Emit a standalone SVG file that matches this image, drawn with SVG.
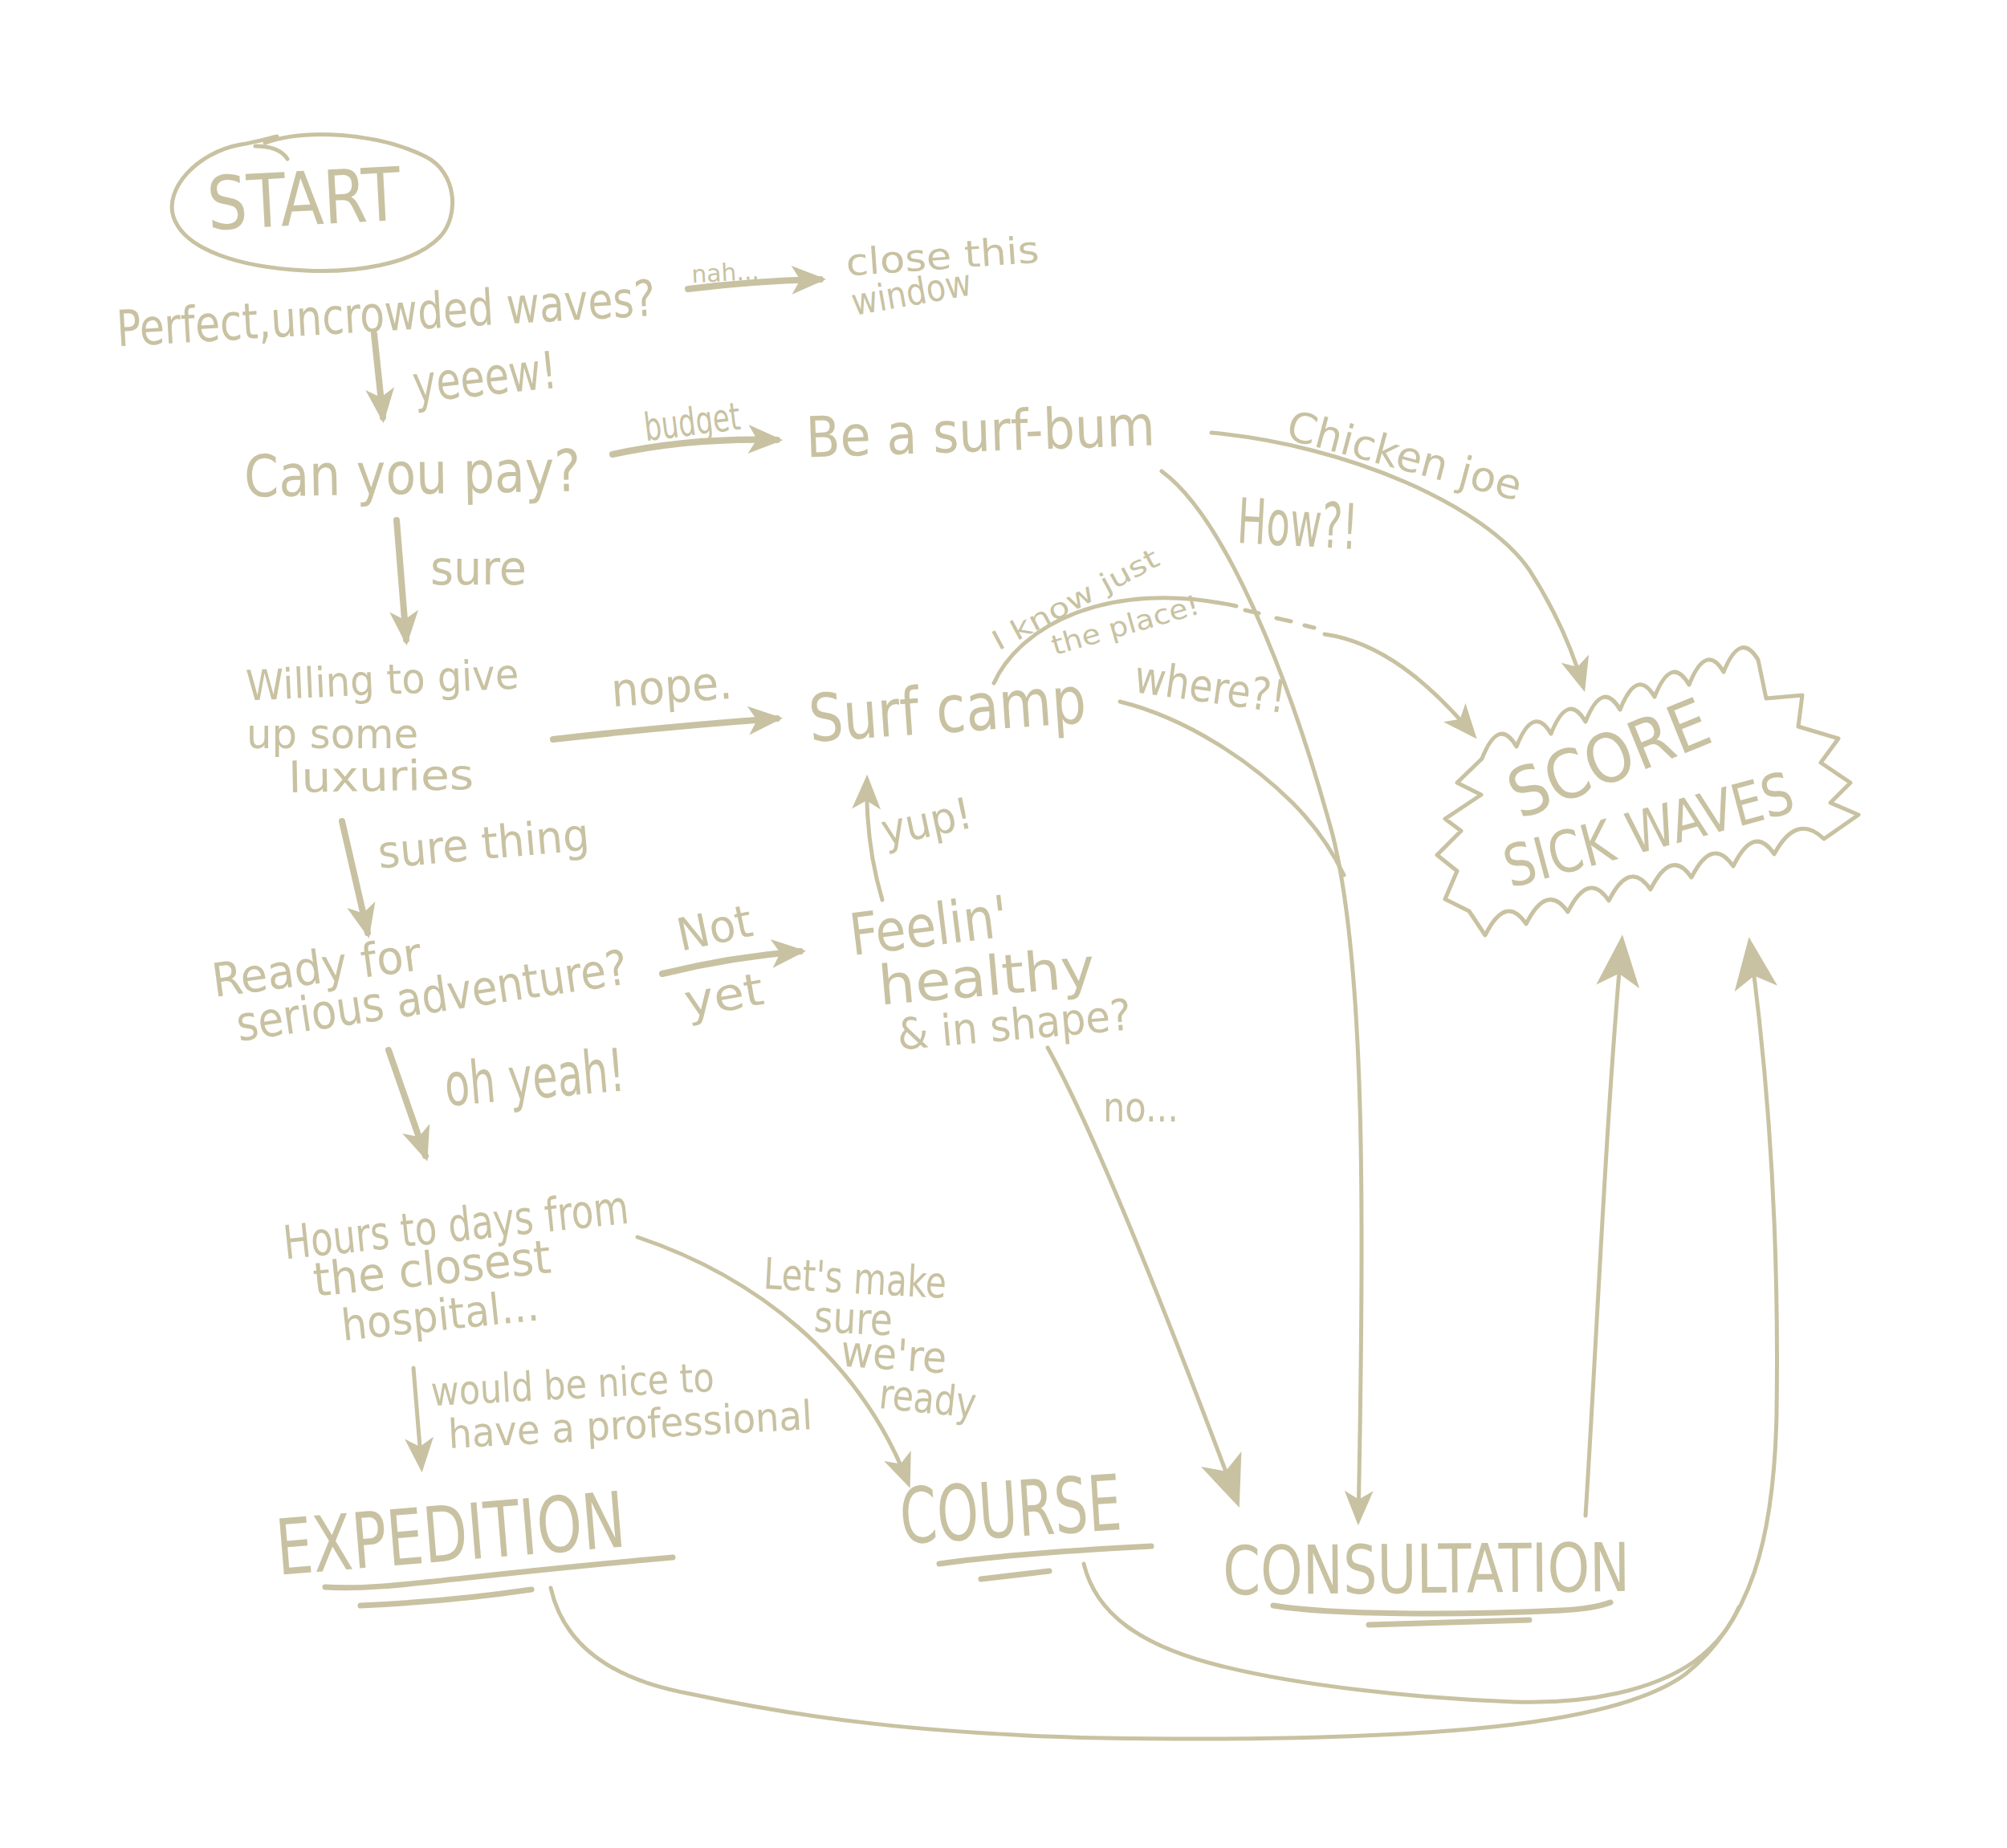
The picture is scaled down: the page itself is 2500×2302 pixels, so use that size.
<svg xmlns="http://www.w3.org/2000/svg" width="2500" height="2302" viewBox="0 0 2500 2302">
<style>
.t{fill:#c8c2a2;font-family:'Liberation Sans Narrow','DejaVu Sans Condensed','Liberation Sans',sans-serif;text-anchor:middle}
.c{fill:none;stroke:#c8c2a2;stroke-width:5;stroke-linecap:round;stroke-linejoin:round}
.cb{stroke-width:8}
.u{stroke-width:7}
</style>
<defs>
<marker id="a" viewBox="0 0 12 10" refX="10" refY="5" markerWidth="44" markerHeight="36" markerUnits="userSpaceOnUse" orient="auto">
<path d="M0,0 L12,5 L0,10 L3,5 Z" fill="#c8c2a2"/>
</marker>
<marker id="al" viewBox="0 0 12 10" refX="10" refY="5" markerWidth="66" markerHeight="54" markerUnits="userSpaceOnUse" orient="auto">
<path d="M0,0 L12,5 L0,10 L3,5 Z" fill="#c8c2a2"/>
</marker>
</defs>
<rect width="2500" height="2302" fill="#ffffff"/>

<g id="n-start">
<path class="c" d="M330,178 C380,160 470,165 530,195 C570,215 572,270 548,295 C515,330 440,340 380,337 C300,333 230,312 216,270 C205,235 245,190 300,180 C320,177 335,172 345,170"/>
<path class="c" d="M318,182 Q348,182 358,198"/>
<text class="t" x="380" y="280" font-size="92" textLength="241" lengthAdjust="spacingAndGlyphs" transform="rotate(-3 380 280)">START</text>
</g>

<g id="n-perfect">
<text class="t" x="482" y="412" font-size="62" textLength="672" lengthAdjust="spacingAndGlyphs" transform="rotate(-3.3 482 412)">Perfect,uncrowded waves?</text>
</g>

<g id="n-close">
<text class="t" x="1175" y="335" font-size="46" textLength="241" lengthAdjust="spacingAndGlyphs" transform="rotate(-4 1175 335)">close this</text>
<text class="t" x="1138" y="380" font-size="46" textLength="151" lengthAdjust="spacingAndGlyphs" transform="rotate(-10 1138 380)">window</text>
</g>

<g id="n-canpay">
<text class="t" x="514" y="615" font-size="72" textLength="419" lengthAdjust="spacingAndGlyphs" transform="rotate(-1 514 615)">Can you pay?</text>
</g>

<g id="n-surfbum">
<text class="t" x="1222" y="562" font-size="70" textLength="435" lengthAdjust="spacingAndGlyphs" transform="rotate(-2 1222 562)">Be a surf-bum</text>
</g>

<g id="n-willing">
<text class="t" x="477" y="865" font-size="52" textLength="340" lengthAdjust="spacingAndGlyphs" transform="rotate(-2.5 477 865)">Willing to give</text>
<text class="t" x="414" y="932" font-size="52" textLength="214" lengthAdjust="spacingAndGlyphs">up some</text>
<text class="t" x="475" y="985" font-size="52" textLength="231" lengthAdjust="spacingAndGlyphs" transform="rotate(-1 475 985)">luxuries</text>
</g>

<g id="n-surfcamp">
<text class="t" x="1182" y="912" font-size="82" textLength="346" lengthAdjust="spacingAndGlyphs" transform="rotate(-4 1182 912)">Surf camp</text>
</g>

<g id="n-ready">
<text class="t" x="397" y="1225" font-size="58" textLength="262" lengthAdjust="spacingAndGlyphs" transform="rotate(-7.5 397 1225)">Ready for</text>
<text class="t" x="541" y="1261" font-size="60" textLength="492" lengthAdjust="spacingAndGlyphs" transform="rotate(-8.4 541 1261)">serious adventure?</text>
</g>

<g id="n-feelin">
<text class="t" x="1160" y="1178" font-size="72" textLength="198" lengthAdjust="spacingAndGlyphs" transform="rotate(-7 1160 1178)">Feelin'</text>
<text class="t" x="1231" y="1240" font-size="68" textLength="270" lengthAdjust="spacingAndGlyphs" transform="rotate(-5 1231 1240)">healthy</text>
<text class="t" x="1265" y="1295" font-size="54" textLength="292" lengthAdjust="spacingAndGlyphs" transform="rotate(-5 1265 1295)">&amp; in shape?</text>
</g>

<g id="n-hours">
<text class="t" x="570" y="1546" font-size="58" textLength="432" lengthAdjust="spacingAndGlyphs" transform="rotate(-6 570 1546)">Hours to days from</text>
<text class="t" x="540" y="1600" font-size="58" textLength="297" lengthAdjust="spacingAndGlyphs" transform="rotate(-5.7 540 1600)">the closest</text>
<text class="t" x="550" y="1657" font-size="54" textLength="247" lengthAdjust="spacingAndGlyphs" transform="rotate(-6 550 1657)">hospital...</text>
</g>

<g id="n-expedition">
<text class="t" x="564" y="1944" font-size="96" textLength="436" lengthAdjust="spacingAndGlyphs" transform="rotate(-4.7 564 1944)">EXPEDITION</text>
<path class="c u" d="M405,1977 C480,1982 560,1964 838,1940"/>
<path class="c u" d="M449,2000 Q560,1995 662,1980"/>
</g>

<g id="n-course">
<text class="t" x="1261" y="1914" font-size="96" textLength="276" lengthAdjust="spacingAndGlyphs" transform="rotate(-3.7 1261 1914)">COURSE</text>
<path class="c u" d="M1170,1948 Q1260,1935 1434,1926"/>
<path class="c u" d="M1222,1967 L1307,1957"/>
</g>

<g id="n-consultation">
<text class="t" x="1777" y="1984" font-size="84" textLength="507" lengthAdjust="spacingAndGlyphs" transform="rotate(-0.5 1777 1984)">CONSULTATION</text>
<path class="c u" d="M1586,2000 C1660,2012 1820,2012 1945,2006 Q1985,2004 2006,1996"/>
<path class="c u" d="M1705,2024 L1905,2018"/>
</g>

<g id="n-score">
<path class="c" d="M1846,945 Q1867,892 1889,930 Q1910,877 1932,914 Q1953,861 1975,899 Q1996,846 2018,884 Q2039,831 2061,868 Q2082,815 2104,853 Q2125,800 2147,837 Q2168,785 2190,822 L2200,870 L2245,866 L2240,905 L2290,920 L2268,950 L2305,975 L2280,1000 L2315,1015 L2272,1045 Q2238,1012 2210,1064 Q2185,1026 2159,1079 Q2133,1041 2107,1093 Q2082,1056 2056,1108 Q2030,1070 2004,1122 Q1979,1084 1953,1136 Q1927,1099 1901,1151 Q1876,1113 1850,1165 L1830,1135 L1800,1120 L1815,1085 L1790,1065 L1820,1035 L1800,1020 L1845,990 L1815,975 Z"/>
<text class="t" x="2015" y="972" font-size="84" textLength="262" lengthAdjust="spacingAndGlyphs" transform="rotate(-22 2015 972)">SCORE</text>
<text class="t" x="2060" y="1058" font-size="72" textLength="370" lengthAdjust="spacingAndGlyphs" transform="rotate(-15 2060 1058)">SICK WAVES</text>
</g>

<g id="connectors">
<path class="c cb" marker-end="url(#a)" d="M857,360 Q940,350 1022,348"/>
<text class="t" x="904" y="350" font-size="30" textLength="84" lengthAdjust="spacingAndGlyphs" transform="rotate(-3 904 350)">nah...</text>

<path class="c cb" marker-end="url(#a)" d="M466,416 L477,520"/>
<text class="t" x="606" y="492" font-size="64" textLength="180" lengthAdjust="spacingAndGlyphs" transform="rotate(-6 606 492)">yeeew!</text>

<path class="c cb" marker-end="url(#a)" d="M763,566 Q860,545 968,548"/>
<text class="t" x="864" y="542" font-size="48" textLength="120" lengthAdjust="spacingAndGlyphs" transform="rotate(-7 864 542)">budget</text>

<path class="c cb" marker-end="url(#a)" d="M494,648 L506,797"/>
<text class="t" x="596" y="728" font-size="58" textLength="120" lengthAdjust="spacingAndGlyphs">sure</text>

<path class="c cb" marker-end="url(#a)" d="M689,921 Q830,905 968,895"/>
<text class="t" x="838" y="875" font-size="58" textLength="151" lengthAdjust="spacingAndGlyphs" transform="rotate(-4 838 875)">nope.</text>

<path class="c cb" marker-end="url(#a)" d="M426,1023 L458,1162"/>
<text class="t" x="604" y="1070" font-size="56" textLength="264" lengthAdjust="spacingAndGlyphs" transform="rotate(-5 604 1070)">sure thing</text>

<path class="c cb" marker-end="url(#a)" d="M825,1213 Q910,1192 997,1185"/>
<text class="t" x="894" y="1175" font-size="56" textLength="94" lengthAdjust="spacingAndGlyphs" transform="rotate(-12 894 1175)">Not</text>
<text class="t" x="905" y="1259" font-size="56" textLength="99" lengthAdjust="spacingAndGlyphs" transform="rotate(-10 905 1259)">yet</text>

<path class="c" marker-end="url(#a)" d="M1099,1121 Q1078,1050 1080,972"/>
<text class="t" x="1158" y="1042" font-size="54" textLength="114" lengthAdjust="spacingAndGlyphs" transform="rotate(-12 1158 1042)">yup!</text>

<path class="c cb" marker-end="url(#a)" d="M484,1308 L530,1440"/>
<text class="t" x="668" y="1368" font-size="74" textLength="225" lengthAdjust="spacingAndGlyphs" transform="rotate(-5 668 1368)">oh yeah!</text>

<path class="c" marker-end="url(#a)" d="M794,1541 C940,1590 1070,1690 1131,1847"/>
<text class="t" x="1064" y="1611" font-size="54" textLength="228" lengthAdjust="spacingAndGlyphs" transform="rotate(3 1064 1611)">Let's make</text>
<text class="t" x="1062" y="1661" font-size="54" textLength="98" lengthAdjust="spacingAndGlyphs" transform="rotate(3 1062 1661)">sure</text>
<text class="t" x="1112" y="1706" font-size="54" textLength="132" lengthAdjust="spacingAndGlyphs" transform="rotate(4 1112 1706)">we're</text>
<text class="t" x="1154" y="1760" font-size="52" textLength="121" lengthAdjust="spacingAndGlyphs" transform="rotate(6 1154 1760)">ready</text>

<path class="c" marker-end="url(#a)" d="M515,1704 L525,1827"/>
<text class="t" x="714" y="1742" font-size="50" textLength="353" lengthAdjust="spacingAndGlyphs" transform="rotate(-3 714 1742)">would be nice to</text>
<text class="t" x="786" y="1792" font-size="50" textLength="454" lengthAdjust="spacingAndGlyphs" transform="rotate(-3 786 1792)">have a professional</text>

<path class="c" marker-end="url(#a)" d="M1509,539 C1680,555 1850,630 1905,710 Q1950,780 1972,855"/>
<text class="t" x="1745" y="585" font-size="52" textLength="300" lengthAdjust="spacingAndGlyphs" transform="rotate(15 1745 585)">Chicken joe</text>

<path class="c" marker-end="url(#a)" d="M1447,587 C1520,640 1600,820 1660,1040 C1700,1200 1700,1500 1692,1893"/>
<text class="t" x="1615" y="680" font-size="78" textLength="150" lengthAdjust="spacingAndGlyphs" transform="rotate(3 1615 680)">How?!</text>

<path class="c" d="M1395,874 C1480,895 1560,950 1610,1000 Q1650,1040 1674,1090"/>
<text class="t" x="1505" y="875" font-size="56" textLength="190" lengthAdjust="spacingAndGlyphs" transform="rotate(8 1505 875)">where?!</text>

<path class="c" d="M1238,851 C1270,780 1380,720 1540,755"/>
<path class="c" d="M1551,760 L1568,764 M1590,770 L1608,774 M1625,779 L1637,782"/>
<path class="c" marker-end="url(#a)" d="M1650,790 C1720,800 1780,850 1835,915"/>
<text class="t" x="1345" y="757" font-size="34" textLength="230" lengthAdjust="spacingAndGlyphs" transform="rotate(-28 1345 757)">I know just</text>
<text class="t" x="1405" y="790" font-size="34" textLength="190" lengthAdjust="spacingAndGlyphs" transform="rotate(-16 1405 790)">the place!</text>

<path class="c" marker-end="url(#al)" d="M1305,1305 Q1380,1440 1540,1868"/>
<text class="t" x="1421" y="1397" font-size="52" textLength="94" lengthAdjust="spacingAndGlyphs">no...</text>

<path class="c" marker-end="url(#al)" d="M1975,1888 C1990,1650 2000,1400 2020,1175"/>

<path class="c" marker-end="url(#al)" d="M686,1978 C700,2040 750,2090 860,2110 C1000,2140 1150,2160 1373,2165 C1550,2168 1750,2165 1886,2148 C1990,2135 2060,2115 2100,2085 C2180,2020 2210,1920 2213,1760 C2216,1560 2205,1360 2180,1178"/>
<path class="c" d="M1350,1948 C1365,2010 1420,2050 1520,2075 C1620,2100 1760,2115 1886,2120 C1980,2123 2060,2105 2110,2070 C2140,2048 2156,2025 2166,2002"/>
</g>
</svg>
